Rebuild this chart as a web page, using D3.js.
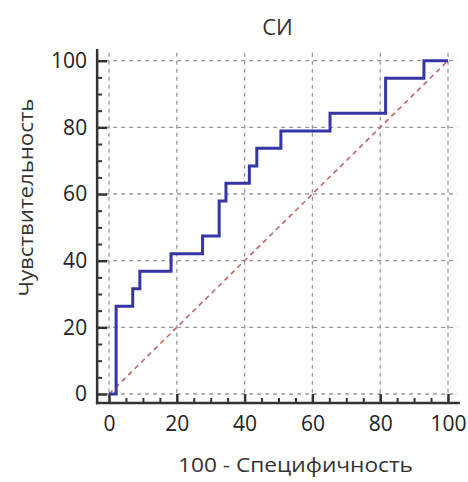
<!DOCTYPE html>
<html>
<head>
<meta charset="utf-8">
<script src="https://cdn.jsdelivr.net/npm/d3@7"></script>
<style>
  html, body { margin: 0; padding: 0; background: #fff; }
  svg { display: block; }
  text { font-family: "Open Sans", "Noto Sans", sans-serif; }
</style>
</head>
<body>
<svg id="chart" width="468" height="482"></svg>
<script>
// ROC curve: 100 - specificity (x) vs sensitivity (y), in percent
const fprValues = [0, 2.1, 7.0, 9.1, 18.3, 27.6, 32.5, 34.5, 41.4, 43.6, 50.7, 65.2, 81.6, 92.9, 100];
const tprValues = [0, 26.3, 31.6, 36.8, 42.1, 47.4, 57.9, 63.2, 68.4, 73.7, 78.9, 84.2, 94.7, 100, 100];
const majorTicks = [0, 20, 40, 60, 80, 100];
const minorTicks = d3.range(0, 101, 5);
const titleText = "СИ";
const xTitle = "100 - Специфичность";
const yTitle = "Чувствительность";

const svg = d3.select("#chart");

const x = d3.scaleLinear().domain([0, 100]).range([109, 448]);
const y = d3.scaleLinear().domain([0, 100]).range([394, 60.7]);

// frame extents, a little beyond the data range
const xLo = x(-3.5), xHi = x(103.5), xGridHi = x(102.8);
const yLo = y(-2.7), yHi = y(103.5), yGridHi = y(102.4);

const axisColor = "#333";

// dashed grid
const grid = svg.append("g").attr("stroke", "#9a9a9a").attr("stroke-width", 1.3)
  .attr("stroke-dasharray", "4,4").attr("fill", "none");
grid.selectAll("line.v").data(majorTicks).join("line").attr("class", "v")
  .attr("x1", d => x(d)).attr("x2", d => x(d))
  .attr("y1", yGridHi).attr("y2", yLo);
grid.selectAll("line.h").data(majorTicks).join("line").attr("class", "h")
  .attr("x1", xLo).attr("x2", xGridHi)
  .attr("y1", d => y(d)).attr("y2", d => y(d));

// reference diagonal
svg.append("line")
  .attr("x1", x(0)).attr("y1", y(0)).attr("x2", x(100)).attr("y2", y(100))
  .attr("stroke", "#c46464").attr("stroke-width", 1.6).attr("stroke-dasharray", "5,4");

// ROC step curve
const pts = fprValues.map((v, i) => [v, tprValues[i]]);
const line = d3.line().x(d => x(d[0])).y(d => y(d[1])).curve(d3.curveStepAfter);
svg.append("path").datum(pts)
  .attr("d", line)
  .attr("fill", "none")
  .attr("stroke", "#3535a3")
  .attr("stroke-width", 3)
  .attr("stroke-linejoin", "miter");

// axes: ticks point inward from offset axis lines
const fmt = d3.format("d");
const yAxis = svg.append("g").attr("transform", `translate(${xLo},0)`)
  .call(d3.axisLeft(y).tickValues(majorTicks).tickFormat(fmt).tickSizeInner(-10).tickSizeOuter(0).tickPadding(10));
const yMinor = svg.append("g").attr("transform", `translate(${xLo},0)`)
  .call(d3.axisLeft(y).tickValues(minorTicks.filter(d => d % 20)).tickFormat("").tickSizeInner(-5).tickSizeOuter(0));
const xAxis = svg.append("g").attr("transform", `translate(0,${yLo})`)
  .call(d3.axisBottom(x).tickValues(majorTicks).tickFormat(fmt).tickSizeInner(-9).tickSizeOuter(0).tickPadding(13));
const xMinor = svg.append("g").attr("transform", `translate(0,${yLo})`)
  .call(d3.axisBottom(x).tickValues(minorTicks.filter(d => d % 20)).tickFormat("").tickSizeInner(-5).tickSizeOuter(0));

[yAxis, yMinor, xAxis, xMinor].forEach(g => {
  g.select(".domain").remove();
  g.selectAll(".tick line").attr("stroke", axisColor).attr("stroke-width", 2);
  g.selectAll(".tick text").attr("fill", "#222")
    .style("font-size", "21px").style("font-family", "'Open Sans', sans-serif");
});
yAxis.selectAll(".tick line").attr("stroke-width", 2.5);
xAxis.selectAll(".tick line").attr("stroke-width", 2.5);

// axis lines
svg.append("line").attr("x1", xLo).attr("x2", xLo).attr("y1", yHi).attr("y2", yLo + 1.25)
  .attr("stroke", axisColor).attr("stroke-width", 2.5);
svg.append("line").attr("x1", xLo - 1.25).attr("x2", xHi).attr("y1", yLo).attr("y2", yLo)
  .attr("stroke", axisColor).attr("stroke-width", 2.5);

// titles
svg.append("text").attr("x", (x(0) + x(100)) / 2 - 1).attr("y", 35)
  .attr("text-anchor", "middle").attr("fill", "#333").style("font-size", "22px")
  .text(titleText);
svg.append("text").attr("x", 295.5).attr("y", 472)
  .attr("text-anchor", "middle").attr("fill", "#333").style("font-size", "20px")
  .attr("textLength", 235).attr("lengthAdjust", "spacingAndGlyphs")
  .text(xTitle);
svg.append("text").attr("transform", `translate(33,197.5) rotate(-90)`)
  .attr("text-anchor", "middle").attr("fill", "#333").style("font-size", "20px")
  .attr("textLength", 198).attr("lengthAdjust", "spacingAndGlyphs")
  .text(yTitle);
</script>
</body>
</html>
